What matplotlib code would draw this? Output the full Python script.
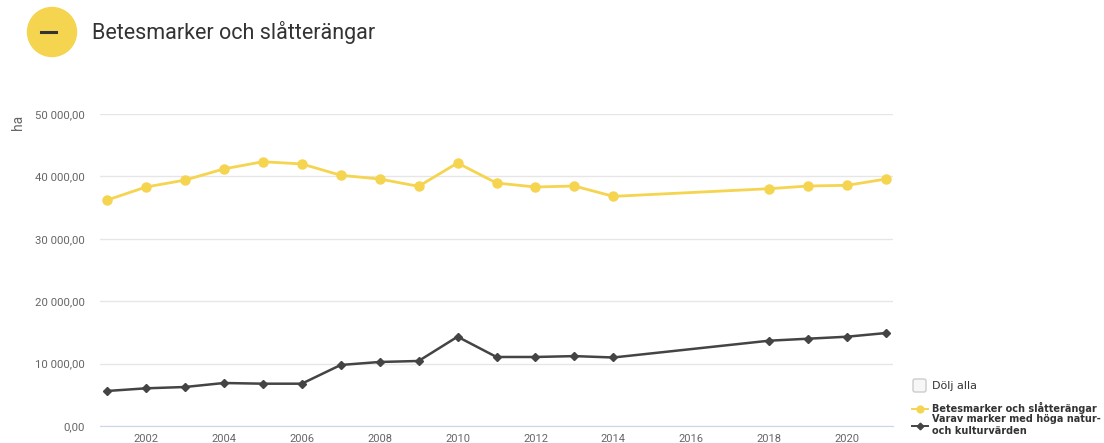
import matplotlib.pyplot as plt
from matplotlib.ticker import FuncFormatter
from matplotlib.patches import Circle, FancyBboxPatch
from matplotlib.lines import Line2D

plt.rcParams['font.family'] = ['Roboto', 'DejaVu Sans']

years = [2001, 2002, 2003, 2004, 2005, 2006, 2007, 2008, 2009, 2010,
         2011, 2012, 2013, 2014, 2018, 2019, 2020, 2021]
betes = [36200, 38300, 39400, 41200, 42350, 42000, 40180, 39580, 38410, 42150,
         38940, 38300, 38460, 36800, 38030, 38460, 38570, 39580]
hoga = [5610, 6040, 6250, 6890, 6780, 6780, 9780, 10260, 10420, 14310,
        11060, 11060, 11200, 10980, 13670, 13990, 14310, 14900]
labels = ['Betesmarker och slåtterängar', 'Varav marker med höga natur-\noch kulturvärden']
xticks = list(range(2002, 2021, 2))
yticks = [0, 10000, 20000, 30000, 40000, 50000]

YELLOW = '#F5D44F'
DARK = '#444444'

fig = plt.figure(figsize=(11.04, 4.43), dpi=100)
ax = fig.add_axes([100 / 1104, 1 - 426 / 443, 793 / 1104, 312 / 443])

l1, = ax.plot(years, betes, color=YELLOW, lw=2, marker='o', ms=6.5, zorder=3)
l2, = ax.plot(years, hoga, color=DARK, lw=1.8, marker='D', ms=4.5, zorder=3)

ax.set_xlim(2000.82, 2021.18)
ax.set_ylim(0, 50000)
ax.set_xticks(xticks)
ax.set_yticks(yticks)
ax.yaxis.set_major_formatter(FuncFormatter(lambda v, p: f'{v:,.2f}'.replace(',', ' ').replace('.', ',')))
ax.grid(axis='y', color='#e6e6e6', lw=1)
ax.set_axisbelow(True)
for s in ['top', 'right', 'left']:
    ax.spines[s].set_visible(False)
ax.spines['bottom'].set_color('#ccd6eb')
ax.tick_params(axis='y', length=0, pad=11, labelsize=8.2, labelcolor='#666666')
ax.tick_params(axis='x', length=0, pad=6, labelsize=8, labelcolor='#666666')
for ln in (l1, l2):
    ln.set_clip_on(False)

fig.text(18 / 1104, 1 - 122 / 443, 'ha', rotation=90, ha='center', va='center',
         fontsize=10, color='#666666')

# title with yellow circle and minus bar
fig.patches.append(Circle((52, 443 - 32), 24.5, transform=None, color=YELLOW))
fig.lines.append(Line2D([41, 56], [443 - 32, 443 - 32], transform=None, color='#333333', lw=2.2))
fig.text(92 / 1104, 1 - 32 / 443, 'Betesmarker och slåtterängar', ha='left', va='center',
         fontsize=15.5, color='#333333')

# "Dölj alla" checkbox
fig.patches.append(FancyBboxPatch((913, 443 - 392), 13, 13, boxstyle='round,pad=0,rounding_size=2',
                                  transform=None, facecolor='#f7f7f7', edgecolor='#cccccc', lw=1))
fig.text(932 / 1104, 1 - 386 / 443, 'Dölj alla', ha='left', va='center', fontsize=8,
         color='#333333', family='DejaVu Sans')

leg = fig.legend([l1, l2], labels, loc='upper left', bbox_to_anchor=(907 / 1104, 1 - 397 / 443),
                 frameon=False, prop={'family': 'DejaVu Sans', 'size': 7.0, 'weight': 'bold'},
                 handlelength=1.7, handletextpad=0.35, labelspacing=0.05, borderpad=0, markerscale=0.75)
for t in leg.get_texts():
    t.set_color('#333333')
for h in leg.legend_handles:
    h.set_linewidth(1.4)

fig.savefig('out.png', dpi=100)
